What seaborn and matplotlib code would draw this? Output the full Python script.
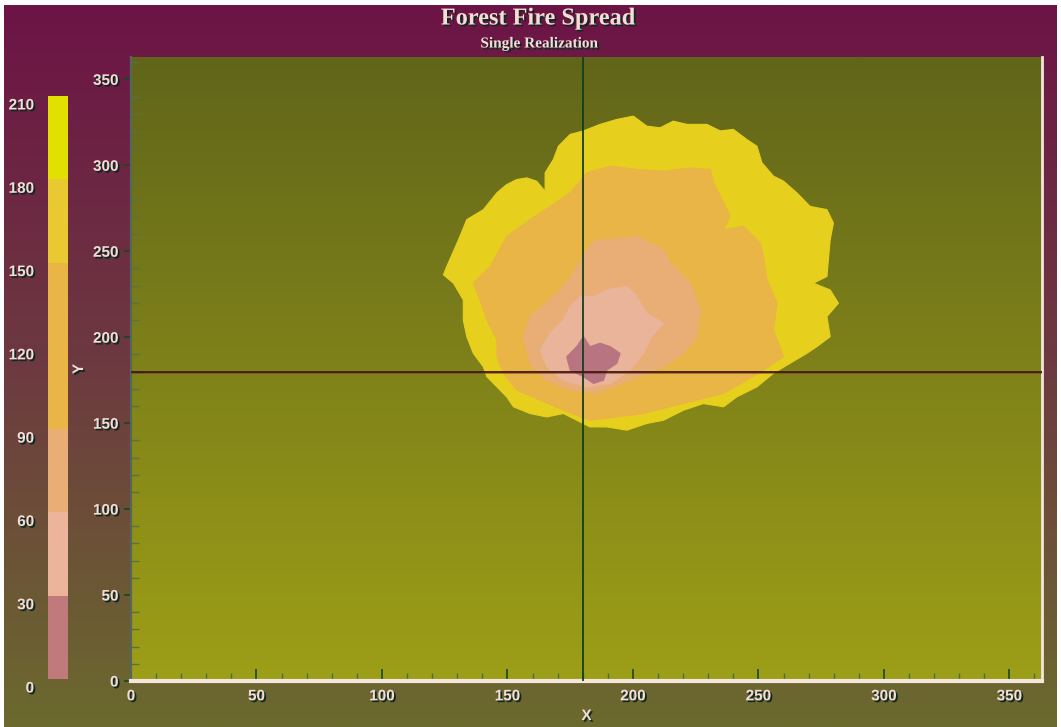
import numpy as np
import matplotlib
matplotlib.use("Agg")
import matplotlib.pyplot as plt
import matplotlib.patheffects as pe
from matplotlib.colors import LinearSegmentedColormap
from matplotlib.transforms import ScaledTranslation
from matplotlib.ticker import MultipleLocator
import seaborn as sns

# ---------------- data ----------------
levels = [0, 30, 60, 90, 120, 150, 180, 210]
level_colors = ["#c07a7c", "#ecb49a", "#e8ae76", "#e8b546", "#e8b546", "#e8c932", "#e2e000"]

# burn-time contour outlines (x, y) in grid units
outer_x = [125.8, 130.5, 133.8, 140.4, 145.8, 149.7, 153.7, 157.7, 161.7, 165, 165, 168.3,
           170.3, 175, 180.3, 186.9, 193.6, 200.2, 205.5, 210.8, 216.1, 221.5, 229.5, 234.8,
           240, 245.4, 249.4, 251.4, 256, 260, 265.3, 270.6, 277.3, 279.9, 278.6,
           277.3, 271.9, 278.6, 281.9, 277.3, 278.6, 273.3, 269.3, 262.6, 256, 249.4, 241.4,
           236.1, 228.1, 220.1, 212.2, 205.5, 197.6, 189.6, 182.9, 177.6, 172.3, 165.7, 159,
           152.4, 149.7, 145.8, 141.8, 140.4, 136.4, 133.8, 132.4, 132.4, 128.5, 124.5]
outer_y = [241.1, 256.7, 268.4, 274.2, 284, 288.8, 291.7, 292.7, 290.7, 284.9, 295.6, 303.4,
           311.1, 318, 320, 323.8, 326.7, 328.6, 322.8, 321.8, 325.7, 323.8, 323.8, 320,
           320.9, 315, 311.1, 301.5, 293.7, 290.8, 284, 276.1, 274.2, 266.4, 256.7,
           235.3, 231.4, 227.5, 219.8, 212, 200.3, 194.5, 190.6, 184.8, 179, 171.1, 165.3,
           159.5, 161.4, 157.5, 151.7, 149.8, 145.9, 147.8, 147.8, 151.7, 155.6, 153.6, 155.6,
           159.5, 165.3, 171.1, 177, 182.8, 190.6, 200.3, 210, 221.7, 231.4, 236.3]

t150_x = [143.1, 149.7, 159, 167, 175, 181.6, 191, 201.6, 212.2, 222.8, 230.8, 232.1, 234.8,
          238.8, 236.1, 244, 250.7, 252, 253.4, 257.4, 256, 260, 252, 245.4, 236.1, 225.5,
          214.8, 204.2, 193.6, 182.9, 172.3, 163, 153.7, 148.4, 145.8, 145.8, 141.8, 139.1,
          136.4]
t150_y = [241.1, 258.6, 268.4, 276.1, 284, 295.6, 299.5, 297.6, 296.6, 298.5, 297.6, 289.8,
          282, 270.3, 262.5, 264.5, 254.8, 247, 233.4, 219.8, 204.2, 188.6, 180.9, 175, 167.3,
          163.4, 159.5, 155.6, 153.6, 151.7, 157.5, 163.4, 169.2, 179, 188.6, 198.4, 210,
          221.7, 231.4]

t90_x = [191, 201.6, 212.2, 214.8, 222.8, 226.8, 225.5, 220.1, 212.2, 198.9, 185.6, 175,
         165.7, 159, 156.4, 159, 167, 172.3, 176.3, 181.6, 185.6]
t90_y = [256.7, 258.6, 250.9, 243.1, 231.4, 215.8, 200.3, 190.6, 182.8, 175, 167.3, 169.2,
         175, 184.8, 200.3, 212, 221.7, 229.5, 237.3, 250.9, 256.7]

t60_x = [184.3, 189.6, 197.6, 201.6, 205.5, 212.2, 207.5, 204.2, 198.9, 191, 181.6, 172.3,
         165.7, 163, 167, 172.3, 175, 179]
t60_y = [223.6, 227.5, 229.5, 223.6, 213.9, 208.1, 200.3, 190.6, 180.9, 173.1, 171.1, 175,
         182.8, 192.5, 202.2, 210, 217.8, 223.6]

t30_x = [180.3, 182.9, 186.9, 191, 194.9, 193.6, 189.6, 188.3, 184.3, 180.3, 175, 173.6, 177.6]
t30_y = [200.3, 194.5, 196.5, 194.5, 190.6, 184.8, 180.9, 175, 173.1, 177, 180.9, 188.6, 194.5]

contours = [
    (outer_x, outer_y, "#e7cf1e"),
    (t150_x, t150_y, "#e8b546"),
    (t90_x, t90_y, "#e8ae76"),
    (t60_x, t60_y, "#eab49a"),
    (t30_x, t30_y, "#b87480"),
]

ignition_x = 180
ignition_y = 180

x_ticks = [0, 50, 100, 150, 200, 250, 300, 350]
y_ticks = [0, 50, 100, 150, 200, 250, 300, 350]
grid_max = 363

# ---------------- styling ----------------
sns.set_theme(style="ticks")
plt.rcParams["font.family"] = ["Liberation Sans", "DejaVu Sans"]

W, H = 1061, 727
fig = plt.figure(figsize=(W / 100, H / 100), dpi=100, facecolor="white")

shadow = [pe.withSimplePatchShadow(offset=(1.3, -1.3), shadow_rgbFace="#0b2a22", alpha=1.0)]
label_color = "#f6dcd6"

# figure background gradient
bg = fig.add_axes([4 / W, 0, 1 - 8 / W, 1 - 5 / H], zorder=-10)
bg_cmap = LinearSegmentedColormap.from_list("bg", ["#6c1446", "#6d3a40", "#6b6a2e"])
bg.imshow(np.linspace(0, 1, 256).reshape(-1, 1), cmap=bg_cmap, aspect="auto",
          extent=[0, 1, 0, 1], origin="upper")
bg.set_axis_off()

# main axes
ax = fig.add_axes([131 / W, 1 - 681 / H, (1042 - 131) / W, (681 - 57) / H])
plot_cmap = LinearSegmentedColormap.from_list("pl", ["#61651a", "#7f8219", "#9d9f17"])
ax.imshow(np.linspace(0, 1, 256).reshape(-1, 1), cmap=plot_cmap, aspect="auto",
          extent=[0, grid_max, 0, grid_max], origin="upper", zorder=0)

for cx, cy, col in contours:
    ax.fill(cx, cy, color=col, lw=0.8, ec=col, zorder=2)

ax.axvline(ignition_x, color="#123f1e", lw=1.3, zorder=3)
ax.axhline(ignition_y, color="#3c1a12", lw=1.3, zorder=3)
ax.axhline(ignition_y - 0.6, color="#8a2a2a", lw=0.6, zorder=3, alpha=0.6)

ax.set_xlim(0, grid_max)
ax.set_ylim(0, grid_max)
ax.set_xticks(x_ticks)
ax.set_yticks(y_ticks)
ax.xaxis.set_minor_locator(MultipleLocator(10))
ax.yaxis.set_minor_locator(MultipleLocator(10))

ax.tick_params(axis="x", which="major", direction="in", length=9, width=1.2,
               color="#17481c", pad=6)
ax.tick_params(axis="x", which="minor", direction="in", length=6, width=1.0, color="#4f6e3a")
ax.tick_params(axis="y", which="major", direction="out", length=5, width=1.2,
               color="#17481c", pad=4)
ax.tick_params(axis="y", which="minor", direction="in", length=6, width=1.0, color="#5c7040")

for lab in ax.get_xticklabels() + ax.get_yticklabels():
    lab.set_fontsize(11)
    lab.set_fontweight("bold")
    lab.set_color(label_color)
    lab.set_path_effects(shadow)

ax.spines["top"].set_visible(False)
ax.spines["left"].set_color("#56665c")
ax.spines["left"].set_linewidth(1.6)
ax.spines["bottom"].set_color("#f3e6dc")
ax.spines["bottom"].set_linewidth(3)
ax.spines["right"].set_color("#f3e6dc")
ax.spines["right"].set_linewidth(2)

ax.set_xlabel("X", fontsize=11, fontweight="bold", color=label_color,
              path_effects=shadow, va="center")
ax.set_ylabel("Y", fontsize=11, fontweight="bold", color=label_color,
              path_effects=shadow, va="center")
ax.yaxis.set_label_coords(-(131 - 79) / (1042 - 131), 0.5)
ax.xaxis.set_label_coords(0.5, -(716 - 681) / (681 - 57))

# colour scale
cax = fig.add_axes([48 / W, 1 - 679 / H, 20 / W, (679 - 96) / H])
bottoms = levels[:-1]
heights = np.diff(levels)
cax.bar([0.5] * len(bottoms), heights, bottom=bottoms, width=1.0, color=level_colors,
        edgecolor="none")
cax.set_xlim(0, 1)
cax.set_ylim(levels[0], levels[-1])
cax.set_xticks([])
cax.set_yticks(levels)
cax.tick_params(axis="y", length=0, pad=10)
for s in cax.spines.values():
    s.set_visible(False)
off = ScaledTranslation(0, -8 / 100, fig.dpi_scale_trans)
for lab in cax.get_yticklabels():
    lab.set_fontsize(11)
    lab.set_fontweight("bold")
    lab.set_color(label_color)
    lab.set_path_effects(shadow)
    lab.set_transform(lab.get_transform() + off)

# titles
fig.text(538 / W, 1 - 19 / H, "Forest Fire Spread", ha="center", va="center",
         fontsize=17.5, fontweight="bold", family=["Liberation Serif", "DejaVu Serif"],
         color=label_color, path_effects=shadow)
fig.text(539 / W, 1 - 44 / H, "Single Realization", ha="center", va="center",
         fontsize=11, fontweight="bold", family=["Liberation Serif", "DejaVu Serif"],
         color=label_color, path_effects=shadow)

fig.savefig("out.png", dpi=100, facecolor="white")
